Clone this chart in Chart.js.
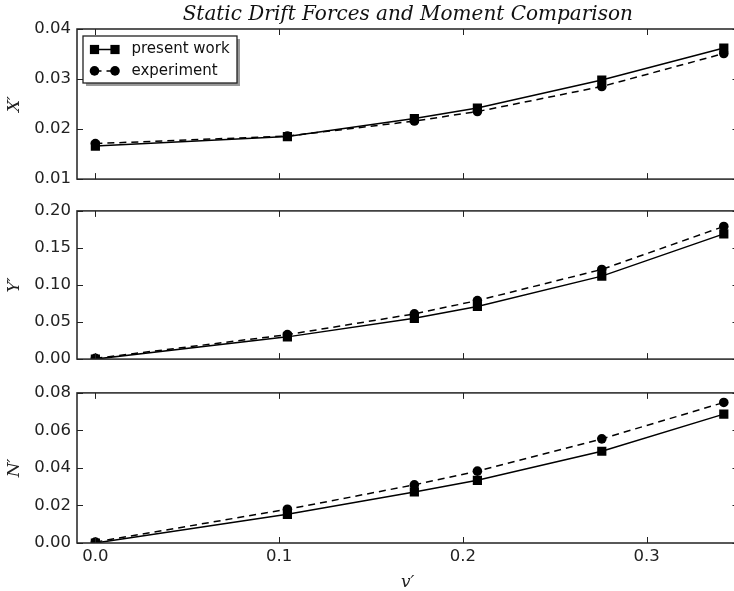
<!DOCTYPE html>
<html>
<head>
<meta charset="utf-8">
<script src="https://cdn.jsdelivr.net/npm/chart.js"></script>
<style>
	html, body { margin:0; padding:0; background:#fff; }
	#wrap { position:relative; width:734px; height:591px; overflow:hidden; background:#fff; }
	#wrap canvas { position:absolute; left:0; }
</style>
</head>
<body>
<div id="wrap">
	<canvas id="chartX" width="745" height="195" style="top:0px"></canvas>
	<canvas id="chartY" width="745" height="180" style="top:195px"></canvas>
	<canvas id="chartN" width="745" height="214" style="top:377px"></canvas>
</div>
<script>
//x축: v' (사행각 0,6,10,12,16,20도의 sin값)
var vPrime = [0.0, 0.1045, 0.1736, 0.2079, 0.2756, 0.3420];
var xTicks = [0.0, 0.1, 0.2, 0.3];
//X' 값
var xPresent = [0.0166, 0.0185, 0.0221, 0.0242, 0.0298, 0.0362];
var xExperiment = [0.0171, 0.0186, 0.0216, 0.0235, 0.0285, 0.0351];
//Y' 값
var yPresent = [0.000, 0.030, 0.055, 0.071, 0.112, 0.169];
var yExperiment = [0.001, 0.033, 0.061, 0.079, 0.121, 0.179];
//N' 값
var nPresent = [0.000, 0.0153, 0.0272, 0.0334, 0.0489, 0.0687];
var nExperiment = [0.0005, 0.0180, 0.0310, 0.0383, 0.0555, 0.0749];
//범례 라벨
var seriesLabels = ['present work', 'experiment'];

var tickFont = {family: 'DejaVu Sans', size: 16.5};
var mathFont = {family: 'DejaVu Serif', style: 'italic', size: 17, lineHeight: 1};
var inkColor = '#222';

//x, y 짝으로 묶기
function toPoints(ys){
	return vPrime.map(function(v, i){ return {x: v, y: ys[i]}; });
}

//축 테두리 + 안쪽 눈금 (matplotlib 스타일)
var framePlugin = {
	id: 'frame',
	afterDraw: function(chart){
		var ctx = chart.ctx, a = chart.chartArea;
		var xs = chart.scales.x, ys = chart.scales.y;
		ctx.save();
		ctx.strokeStyle = inkColor;
		ctx.lineWidth = 1;
		xTicks.forEach(function(v){
			var px = Math.round(xs.getPixelForValue(v)) + 0.5;
			ctx.beginPath();
			ctx.moveTo(px, a.bottom); ctx.lineTo(px, a.bottom - 6);
			ctx.moveTo(px, a.top); ctx.lineTo(px, a.top + 6);
			ctx.stroke();
		});
		ys.ticks.forEach(function(t){
			var py = Math.round(ys.getPixelForValue(t.value)) + 0.5;
			ctx.beginPath();
			ctx.moveTo(a.left, py); ctx.lineTo(a.left + 6, py);
			ctx.moveTo(a.right, py); ctx.lineTo(a.right - 6, py);
			ctx.stroke();
		});
		ctx.lineWidth = 1.5;
		ctx.strokeRect(a.left, a.top, a.right - a.left, a.bottom - a.top);
		ctx.restore();
	}
};

//그림자 있는 범례 (맨 위 그래프에만)
var boxLegendPlugin = {
	id: 'boxLegend',
	afterDraw: function(chart){
		var ctx = chart.ctx, a = chart.chartArea;
		var x0 = a.left + 6, y0 = a.top + 7, w = 154, h = 47;
		ctx.save();
		ctx.fillStyle = 'rgba(0,0,0,0.4)';
		ctx.fillRect(x0 + 3, y0 + 3, w, h);
		ctx.fillStyle = '#fff';
		ctx.fillRect(x0, y0, w, h);
		ctx.strokeStyle = inkColor;
		ctx.lineWidth = 1.3;
		ctx.strokeRect(x0, y0, w, h);
		chart.data.datasets.forEach(function(ds, i){
			var ly = y0 + 13.5 + i * 21.4;
			var m1 = x0 + 11.5, m2 = x0 + 32;
			ctx.strokeStyle = '#000';
			ctx.fillStyle = '#000';
			ctx.lineWidth = ds.borderWidth;
			ctx.setLineDash(ds.borderDash || []);
			ctx.beginPath(); ctx.moveTo(m1, ly); ctx.lineTo(m2, ly); ctx.stroke();
			ctx.setLineDash([]);
			[m1, m2].forEach(function(mx){
				if(ds.pointStyle == 'rect'){
					ctx.fillRect(mx - 4.6, ly - 4.6, 9.2, 9.2);
				}else{
					ctx.beginPath(); ctx.arc(mx, ly, 4.8, 0, Math.PI * 2); ctx.fill();
				}
			});
			ctx.font = '15px "DejaVu Sans"';
			ctx.textBaseline = 'middle';
			ctx.fillStyle = '#111';
			ctx.fillText(ds.label, x0 + 48.5, ly);
		});
		ctx.restore();
	}
};

//그래프 한 칸 만들기
function makePanel(id, present, experiment, yMin, yMax, yStep, yTitle, extra){
	var showX = extra.showX;
	var options = {
		responsive: false,
		animation: false,
		layout: {padding: extra.padding},
		plugins: {
			legend: {display: false},
			tooltip: {enabled: false},
			title: extra.title || {display: false}
		},
		scales: {
			x: {
				type: 'linear',
				display: showX,
				min: -0.01,
				max: 0.35,
				grid: {display: false, drawTicks: false},
				border: {display: false},
				afterBuildTicks: function(s){ s.ticks = xTicks.map(function(v){ return {value: v}; }); },
				afterFit: function(s){ if(showX) s.height = 48; },
				ticks: {
					font: tickFont, color: inkColor, padding: 4,
					callback: function(v){ return Number(v).toFixed(1); }
				},
				title: {display: showX, text: 'v′', font: mathFont, color: inkColor, padding: {top: 0, bottom: 0}}
			},
			y: {
				min: yMin,
				max: yMax,
				grid: {display: false, drawTicks: false},
				border: {display: false},
				afterFit: function(s){ s.width = 77; },
				ticks: {
					stepSize: yStep, font: tickFont, color: inkColor, padding: 6,
					callback: function(v){ return Number(v).toFixed(2); }
				},
				title: {display: true, text: yTitle, font: mathFont, color: inkColor, padding: {top: 6, bottom: 0}}
			}
		}
	};
	return new Chart(document.getElementById(id), {
		type: 'line',
		data: {
			datasets: [{
				label: seriesLabels[0],
				data: toPoints(present),
				borderColor: '#000',
				borderWidth: 1.5,
				pointStyle: 'rect',
				pointRadius: 6.5,
				pointBackgroundColor: '#000',
				pointBorderWidth: 0,
				tension: 0
			}, {
				label: seriesLabels[1],
				data: toPoints(experiment),
				borderColor: '#000',
				borderWidth: 1.5,
				borderDash: [7, 5],
				pointStyle: 'circle',
				pointRadius: 4.8,
				pointBackgroundColor: '#000',
				pointBorderWidth: 0,
				tension: 0
			}]
		},
		options: options,
		plugins: extra.legend ? [framePlugin, boxLegendPlugin] : [framePlugin]
	});
}

//위: X'
makePanel('chartX', xPresent, xExperiment, 0.01, 0.04, 0.01, 'X′', {
	showX: false,
	legend: true,
	padding: {top: 0, bottom: 15, left: 0, right: 6},
	title: {
		display: true,
		fullSize: false,
		text: 'Static Drift Forces and Moment Comparison',
		font: {family: 'DejaVu Serif', style: 'italic', weight: 'normal', size: 20, lineHeight: 1.2},
		color: '#111',
		padding: {top: 3, bottom: 2}
	}
});
//가운데: Y'
makePanel('chartY', yPresent, yExperiment, 0, 0.2, 0.05, 'Y′', {
	showX: false,
	padding: {top: 15, bottom: 14, left: 0, right: 6}
});
//아래: N'
makePanel('chartN', nPresent, nExperiment, 0, 0.08, 0.02, 'N′', {
	showX: true,
	padding: {top: 15, bottom: 0, left: 0, right: 6}
});
</script>
</body>
</html>
